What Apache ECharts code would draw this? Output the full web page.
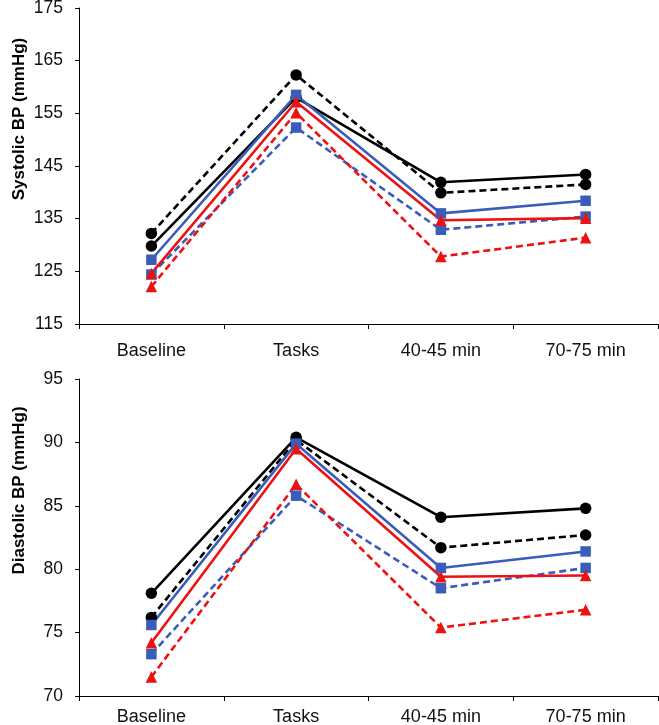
<!DOCTYPE html>
<html>
<head>
<meta charset="utf-8">
<script src="https://cdn.jsdelivr.net/npm/echarts@6/dist/echarts.min.js"></script>
<style>
html,body{margin:0;padding:0;background:#fff;}
#c{width:659px;height:725px;}
</style>
</head>
<body>
<div id="c"></div>
<script>
var categories = ['Baseline', 'Tasks', '40-45 min', '70-75 min'];

var sysBlackSolid  = [129.8, 158.0, 141.9, 143.4];
var sysBlackDashed = [132.2, 162.3, 139.9, 141.5];
var sysBlueSolid   = [127.2, 158.5, 136.0, 138.4];
var sysBlueDashed  = [124.4, 152.3, 132.9, 135.4];
var sysRedSolid    = [124.6, 157.2, 134.7, 135.1];
var sysRedDashed   = [122.1, 155.1, 127.8, 131.4];

var diaBlackSolid  = [78.1, 90.4, 84.1, 84.8];
var diaBlackDashed = [76.2, 90.2, 81.7, 82.7];
var diaBlueSolid   = [75.6, 89.9, 80.1, 81.4];
var diaBlueDashed  = [73.3, 85.8, 78.5, 80.1];
var diaRedSolid    = [74.2, 89.5, 79.4, 79.5];
var diaRedDashed   = [71.5, 86.7, 75.4, 76.8];

var sysTicks = {min: 115, max: 175, interval: 10};
var diaTicks = {min: 70, max: 95, interval: 5};

var BLACK = '#000000', BLUE = '#3A5DBA', RED = '#EE1111';
var FONT = 'Liberation Sans';

function mk(name, data, color, dashed, symbol, size, idx) {
  return {
    name: name, type: 'line', data: data,
    xAxisIndex: idx, yAxisIndex: idx,
    symbol: symbol, symbolSize: size,
    itemStyle: {color: color},
    lineStyle: {color: color, width: 2.6, type: dashed ? [7, 4] : 'solid'},
    animation: false
  };
}

function xAx(idx, margin) {
  return {
    type: 'category', gridIndex: idx, data: categories, boundaryGap: true,
    axisLine: {lineStyle: {color: '#000', width: 1}},
    axisTick: {show: true, length: 5, alignWithLabel: false, lineStyle: {color: '#000'}},
    axisLabel: {color: '#111', fontFamily: FONT, fontSize: 18, margin: margin},
    splitLine: {show: false}
  };
}
function yAx(idx, t, name) {
  return {
    type: 'value', gridIndex: idx, min: t.min, max: t.max, interval: t.interval,
    name: name, nameLocation: 'middle', nameGap: 51, nameRotate: 90, nameMoveOverlap: false,
    nameTextStyle: {color: '#000', fontFamily: FONT, fontSize: 17, fontWeight: 'bold', padding: [0, 0, 0, 94]},
    axisLine: {show: true, lineStyle: {color: '#000', width: 1}},
    axisTick: {show: true, length: 4, lineStyle: {color: '#000'}},
    axisLabel: {color: '#111', fontFamily: FONT, fontSize: 17.5, margin: 16},
    splitLine: {show: false}
  };
}

var chart = echarts.init(document.getElementById('c'), null, {renderer: 'canvas'});
chart.setOption({
  backgroundColor: '#fff',
  animation: false,
  grid: [
    {left: 79, right: 1, top: 8, height: 316, outerBoundsMode: 'none', containLabel: false},
    {left: 79, right: 1, top: 379, height: 317, outerBoundsMode: 'none', containLabel: false}
  ],
  xAxis: [xAx(0, 18), xAx(1, 12)],
  yAxis: [yAx(0, sysTicks, 'Systolic BP (mmHg)'), yAx(1, diaTicks, 'Diastolic BP (mmHg)')],
  series: [
    mk('Black solid', sysBlackSolid, BLACK, false, 'circle', 11.5, 0),
    mk('Black dashed', sysBlackDashed, BLACK, true, 'circle', 11.5, 0),
    mk('Blue solid', sysBlueSolid, BLUE, false, 'rect', 10.5, 0),
    mk('Blue dashed', sysBlueDashed, BLUE, true, 'rect', 10.5, 0),
    mk('Red solid', sysRedSolid, RED, false, 'triangle', 11.5, 0),
    mk('Red dashed', sysRedDashed, RED, true, 'triangle', 11.5, 0),
    mk('Black solid', diaBlackSolid, BLACK, false, 'circle', 11.5, 1),
    mk('Black dashed', diaBlackDashed, BLACK, true, 'circle', 11.5, 1),
    mk('Blue solid', diaBlueSolid, BLUE, false, 'rect', 10.5, 1),
    mk('Blue dashed', diaBlueDashed, BLUE, true, 'rect', 10.5, 1),
    mk('Red solid', diaRedSolid, RED, false, 'triangle', 11.5, 1),
    mk('Red dashed', diaRedDashed, RED, true, 'triangle', 11.5, 1)
  ]
});
</script>
</body>
</html>
